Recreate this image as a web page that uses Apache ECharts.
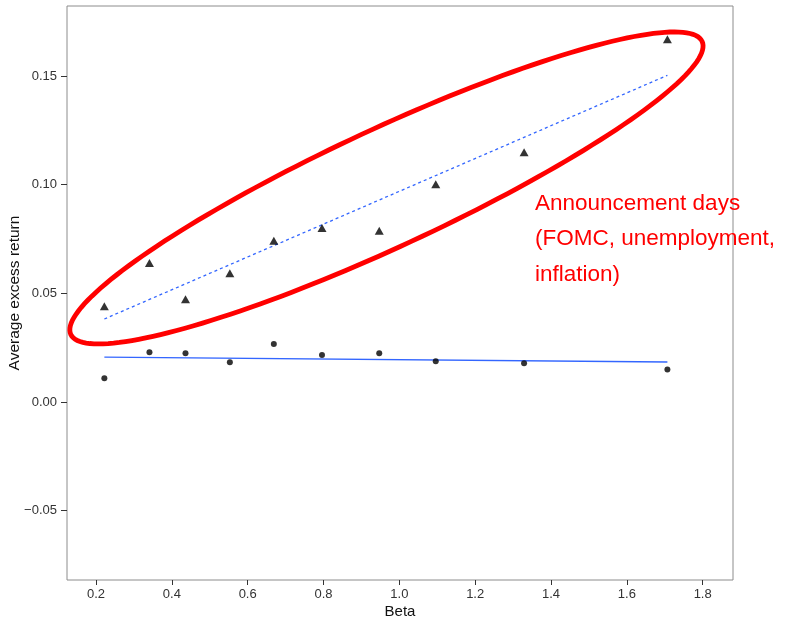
<!DOCTYPE html>
<html>
<head>
<meta charset="utf-8">
<script src="https://cdn.jsdelivr.net/npm/echarts@6/dist/echarts.min.js"></script>
<style>
  html, body { margin: 0; padding: 0; background: #ffffff; }
  #chart { width: 787px; height: 618px; }
</style>
</head>
<body>
<div id="chart"></div>
<script>
// ---- data ----
var betas = [0.222, 0.341, 0.436, 0.553, 0.669, 0.796, 0.947, 1.096, 1.329, 1.707];
var announcementReturns = [0.0440, 0.0640, 0.0473, 0.0592, 0.0742, 0.0801, 0.0788, 0.1002, 0.1149, 0.1669];
var otherDayReturns = [0.0109, 0.0229, 0.0224, 0.0183, 0.0267, 0.0216, 0.0224, 0.0187, 0.0178, 0.0150];
var fitX = [0.222, 1.707];
var announcementFitY = [0.0382, 0.1503];
var otherDayFitY = [0.0206, 0.0184];
var xTicks = [0.2, 0.4, 0.6, 0.8, 1.0, 1.2, 1.4, 1.6, 1.8];
var yTicks = [-0.05, 0.00, 0.05, 0.10, 0.15];
var annotationLines = ['Announcement days', '(FOMC, unemployment,', 'inflation)'];
var ellipseCenter = [0.966, 0.0985];

function pairs(xs, ys) { return xs.map(function (x, i) { return [x, ys[i]]; }); }

var chart = echarts.init(document.getElementById('chart'), null, { renderer: 'canvas' });

var ELL_A = 348, ELL_B = 59, ELL_ROT = 24.9 * Math.PI / 180;

var option = {
  animation: false,
  backgroundColor: '#ffffff',
  grid: { left: 67, top: 6, width: 666, height: 574, containLabel: false, outerBoundsMode: 'none',
    show: true, borderColor: '#8c8c8c', borderWidth: 1, backgroundColor: 'transparent' },
  xAxis: {
    type: 'value', min: 0.1235, max: 1.880,
    name: 'Beta', nameLocation: 'middle', nameGap: 24, nameMoveOverlap: false,
    nameTextStyle: { fontFamily: 'Liberation Sans', fontSize: 15, color: '#111' },
    axisLine: { show: false, onZero: false },
    axisTick: { show: true, length: 5, customValues: xTicks, lineStyle: { color: '#333' } },
    axisLabel: { customValues: xTicks, margin: 8, fontFamily: 'Liberation Sans', fontSize: 13, color: '#333',
      formatter: function (v) { return v.toFixed(1); } },
    splitLine: { show: false }
  },
  yAxis: {
    type: 'value', min: -0.0819, max: 0.1822,
    name: 'Average excess return', nameLocation: 'middle', nameGap: 44, nameRotate: 90, nameMoveOverlap: false,
    nameTextStyle: { fontFamily: 'Liberation Sans', fontSize: 15.5, color: '#111' },
    axisLine: { show: false, onZero: false },
    axisTick: { show: true, length: 6, customValues: yTicks, lineStyle: { color: '#333' } },
    axisLabel: { customValues: yTicks, margin: 10, fontFamily: 'Liberation Sans', fontSize: 13, color: '#333',
      formatter: function (v) { return v.toFixed(2).replace('-', '\u2212'); } },
    splitLine: { show: false }
  },
  series: [
    {
      type: 'line', data: pairs(fitX, otherDayFitY), showSymbol: false, z: 2,
      lineStyle: { color: '#3366FF', width: 1.3 }
    },
    {
      type: 'line', data: pairs(fitX, announcementFitY), showSymbol: false, z: 2,
      lineStyle: { color: '#3366FF', width: 1.3, type: [3, 3] }
    },
    {
      type: 'scatter', data: pairs(betas, otherDayReturns), symbol: 'circle', symbolSize: 6, z: 3,
      itemStyle: { color: '#000' }
    },
    {
      type: 'scatter', data: pairs(betas, announcementReturns), symbol: 'triangle', symbolSize: [9, 8], z: 3,
      itemStyle: { color: '#000' }
    },
    {
      type: 'custom', coordinateSystem: 'cartesian2d', z: 4, silent: true, clip: false,
      data: [ellipseCenter],
      renderItem: function (params, api) {
        var c = api.coord([api.value(0), api.value(1)]);
        var pts = [];
        var n = 180;
        var cr = Math.cos(ELL_ROT), sr = Math.sin(ELL_ROT);
        for (var i = 0; i < n; i++) {
          var t = i / n * Math.PI * 2;
          var u = ELL_A * Math.cos(t), v = ELL_B * Math.sin(t);
          pts.push([c[0] + u * cr + v * sr, c[1] - u * sr + v * cr]);
        }
        return { type: 'polygon', shape: { points: pts }, style: { fill: 'none', stroke: '#ff0000', lineWidth: 4.8 } };
      }
    }
  ],
  graphic: annotationLines.map(function (s, i) {
    return {
      type: 'text', left: 535, top: 192 + i * 35.5, z: 10,
      style: { text: s, fill: '#ff0000', font: '22.5px "Liberation Sans"' }
    };
  })
};
chart.setOption(option);
</script>
</body>
</html>
